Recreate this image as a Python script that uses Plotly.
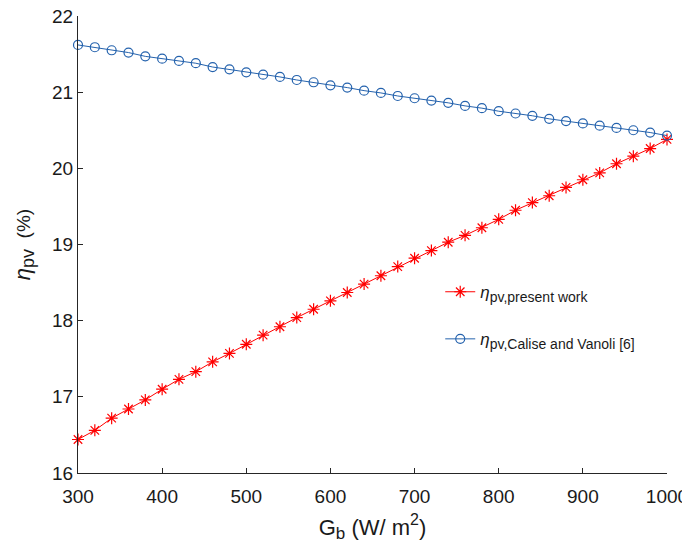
import plotly.graph_objects as go

G_b = list(range(300, 1001, 20))

eta_present = [16.44, 16.56, 16.72, 16.84, 16.96, 17.10, 17.23, 17.33, 17.46, 17.57,
               17.69, 17.81, 17.92, 18.04, 18.15, 18.26, 18.37, 18.48, 18.59, 18.71,
               18.82, 18.92, 19.03, 19.12, 19.22, 19.33, 19.45, 19.55, 19.64, 19.75,
               19.85, 19.94, 20.06, 20.16, 20.26, 20.38]

eta_calise = [21.62, 21.59, 21.55, 21.52, 21.47, 21.44, 21.41, 21.38, 21.33, 21.30,
              21.26, 21.23, 21.20, 21.16, 21.13, 21.09, 21.06, 21.02, 20.99, 20.95,
              20.92, 20.89, 20.86, 20.82, 20.79, 20.75, 20.72, 20.69, 20.65, 20.62,
              20.59, 20.56, 20.53, 20.50, 20.47, 20.43]

x_ticks = [300, 400, 500, 600, 700, 800, 900, 1000]
y_ticks = [16, 17, 18, 19, 20, 21, 22]

RED = "#ff0000"
BLUE = "#2462ad"
AXC = "#262626"
TXT = "#1a1a1a"
FONT = "Liberation Sans, Arial, sans-serif"

fig = go.Figure()
fig.add_trace(go.Scatter(
    x=G_b, y=eta_present, mode="lines+markers",
    name='<span style="font-size:17px"><i>η</i></span><sub><span style="font-size:14px">pv,present work</span></sub>',
    line=dict(color=RED, width=1),
    marker=dict(symbol="asterisk-open", size=10, line=dict(color=RED, width=1.2), color=RED),
    cliponaxis=False, legendgroup="a",
))
fig.add_trace(go.Scatter(
    x=G_b, y=eta_calise, mode="lines+markers",
    name='<span style="font-size:17px"><i>η</i></span><sub><span style="font-size:14px">pv,Calise and Vanoli [6]</span></sub>',
    line=dict(color=BLUE, width=1),
    marker=dict(symbol="circle-open", size=9, line=dict(color=BLUE, width=1.2), color=BLUE),
    cliponaxis=False, legendgroup="b",
))

fig.update_layout(
    width=690, height=547,
    margin=dict(l=70, r=31, t=8, b=82, autoexpand=False),
    paper_bgcolor="white", plot_bgcolor="white",
    font=dict(family=FONT, color=TXT, size=19),
    showlegend=True,
    legend=dict(x=0.615, y=0.435, xanchor="left", yanchor="top",
                bgcolor="rgba(0,0,0,0)", tracegroupgap=22,
                font=dict(size=17, family=FONT, color=TXT)),
    xaxis=dict(range=[300, 1000], tickvals=x_ticks, ticks="inside", ticklen=5,
               tickcolor=AXC, showline=True, linecolor=AXC, linewidth=1,
               showgrid=False, zeroline=False, tickfont=dict(size=19),
               automargin=False, ticklabelstandoff=6, ticklabeloverflow="allow",
               title=dict(text='<span style="font-size:22px">G</span><sub><span style="font-size:17px">b</span></sub><span style="font-size:22px"> (W/ m</span><sup><span style="font-size:16px">2</span></sup><span style="font-size:22px">)</span>',
                          font=dict(size=22), standoff=13)),
    yaxis=dict(range=[16, 22], tickvals=y_ticks, ticks="inside", ticklen=5,
               tickcolor=AXC, showline=True, linecolor=AXC, linewidth=1,
               showgrid=False, zeroline=False, tickfont=dict(size=19),
               automargin=False, ticklabelstandoff=0, ticklabeloverflow="allow",
               title=dict(text='<span style="font-size:22px"><i>η</i></span><sub><span style="font-size:18px">pv</span></sub><span style="font-size:19px">&nbsp;&nbsp;(%)</span>',
                          font=dict(size=19), standoff=16)),
)

fig.write_html("out.html")
